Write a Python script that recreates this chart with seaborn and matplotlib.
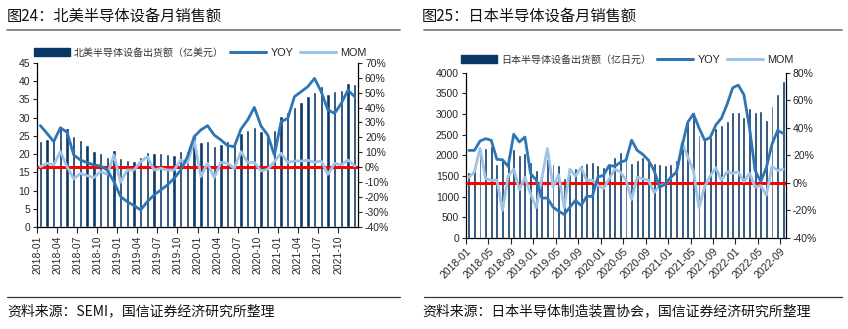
import numpy as np
import pandas as pd
import matplotlib
matplotlib.use("Agg")
import matplotlib.pyplot as plt
import seaborn as sns
from matplotlib.lines import Line2D
from matplotlib.patches import Patch
from matplotlib.ticker import FuncFormatter

sns.set_style("ticks")
plt.rcParams['font.family'] = ['Liberation Sans', 'Noto Sans CJK SC', 'DejaVu Sans']

# ---------------- data: North America ----------------
na_months = [f"{y}-{m:02d}" for y in range(2018, 2022) for m in range(1, 13)]
na_sales = [23.6, 24.1, 24.0, 27.0, 27.0, 24.8, 23.8, 22.4, 20.7, 20.3, 19.3, 21.0,
            18.9, 18.5, 18.2, 19.1, 20.5, 20.3, 20.3, 20.1, 19.6, 20.7, 20.9, 24.9,
            23.4, 23.6, 22.2, 22.7, 23.5, 22.5, 25.8, 26.5, 27.5, 26.4, 24.7, 26.7,
            30.4, 31.5, 32.8, 34.3, 35.9, 37.0, 38.6, 36.4, 37.2, 37.6, 39.4, 39.1]
na_yoy = [27.9, 22.7, 17.2, 26.5, 23.4, 8.2, 4.9, 3.1, 1.6, 0.9, -1.8, -9.6,
          -19.6, -23.0, -25.6, -28.5, -23.0, -18.5, -15.2, -11.8, -7.4, -1.8, 7.1, 20.5,
          25.0, 27.9, 21.6, 18.3, 14.5, 13.8, 25.6, 31.7, 40.1, 27.6, 21.6, 8.2,
          30.5, 32.8, 47.3, 50.6, 54.0, 59.5, 50.6, 38.4, 36.1, 42.8, 51.7, 47.3]
na_mom = [0.4, 2.7, 1.6, 10.5, 0.4, -7.8, -4.0, -5.6, -6.9, -2.9, -4.7, 8.2,
          -10.0, -1.8, -1.8, 3.8, 7.1, -1.8, -0.7, -1.8, -1.8, 4.9, 2.7, 18.3,
          -6.2, 2.7, -6.9, 3.3, 2.7, -0.7, 10.5, 3.3, 3.3, -2.5, -1.3, 3.8,
          9.4, 3.3, 4.2, 4.2, 4.7, 3.3, 4.2, -4.7, 2.7, 1.6, 4.9, 0.9]

# ---------------- data: Japan ----------------
jp_months = [f"{y}-{m:02d}" for y in range(2018, 2023) for m in range(1, 13)][:57]
jp_sales = [1590, 1710, 2050, 2185, 2225, 1780, 1890, 1980, 2145, 2000, 2050, 1850,
            1645, 1500, 1900, 1780, 1765, 1450, 1550, 1700, 1765, 1805, 1845, 1765,
            1710, 1790, 1960, 2070, 2060, 1805, 1885, 1950, 1930, 1810, 1780, 1770,
            1790, 1885, 2395, 2815, 3040, 2490, 2430, 2450, 2650, 2740, 2820, 3040,
            3060, 2940, 3150, 3060, 3080, 2855, 3200, 3475, 3805]
jp_yoy = [23.6, 23.6, 30.4, 32.1, 30.9, 17.1, 16.8, 12.0, 35.3, 29.7, 33.3, 6.7,
          2.3, -11.0, -11.0, -17.6, -20.5, -22.9, -17.6, -12.7, -16.4, -9.8, -9.8, 4.2,
          5.5, 12.7, 12.0, 15.0, 16.4, 31.0, 23.6, 20.7, 16.4, 9.0, -3.0, -1.0,
          4.2, 7.9, 27.0, 44.0, 50.0, 40.0, 31.0, 33.0, 42.0, 47.0, 57.0, 69.0,
          71.0, 64.0, 40.0, 9.0, 1.0, 11.0, 28.0, 38.0, 36.0]
jp_mom = [4, 8, 25, 3, 2, 2, -20, 5, 10, -5, 4, -8,
          -18, 3, 25, -3, 6, -18, 10, 5, 11, 2, 2, -2,
          -4, 3, 10, 8, 2, -12, 4, 3, 2, -7, -2, -1,
          4, 8, 29, 19, 9, -18, -3, 5, 11, 2, 8, 7,
          8, 1, 7, -3, -2, -9, 12, 9, 10]

BAR = "#0B3766"
YOY_C = "#2E75B6"
MOM_C = "#9DC3E6"
RED = "#FF0000"

W, H = 848, 329
fig = plt.figure(figsize=(W / 100, H / 100), dpi=100)

def fx(px):
    return px / W

def fy(py):
    return 1 - py / H

TICK_FS = 7.5

def panel(rect, months, sales, yoy, mom, ylim_l, yticks_l, ylim_r, yticks_r,
          tick_step, rot, legend_label, legend_xy, bar_w):
    ax = fig.add_axes(rect)
    n = len(months)
    df = pd.DataFrame({"month": months, "sales": sales})
    sns.barplot(data=df, x="month", y="sales", ax=ax, color=BAR, saturation=1,
                width=bar_w, zorder=1)
    ax.set_xlim(-0.5, n - 0.5)
    ax.set_ylim(*ylim_l)
    ax.set_yticks(yticks_l)
    ax.set_xlabel("")
    ax.set_ylabel("")
    ticks = np.arange(0, n, tick_step)
    ax.set_xticks(ticks - 0.5)
    if rot == 90:
        ax.set_xticklabels([months[i] for i in ticks], rotation=90, fontsize=TICK_FS)
    else:
        ax.set_xticklabels([months[i] for i in ticks], rotation=45, ha='right',
                           rotation_mode='anchor', fontsize=TICK_FS)
    ax.tick_params(axis='y', labelsize=TICK_FS, length=3, width=0.8, pad=2)
    ax.tick_params(axis='x', length=4, width=0.8, pad=2)
    for s in ['top', 'right']:
        ax.spines[s].set_visible(False)
    for s in ['left', 'bottom']:
        ax.spines[s].set_color('black')
        ax.spines[s].set_linewidth(0.9)

    ax2 = ax.twinx()
    x = np.arange(n)
    ax2.plot([-0.35, n - 0.65], [0, 0], color=RED, lw=2.2, zorder=2)
    sns.lineplot(x=x, y=yoy, ax=ax2, color=YOY_C, lw=2.0, zorder=4)
    sns.lineplot(x=x, y=mom, ax=ax2, color=MOM_C, lw=2.0, zorder=3)
    ax2.set_ylim(*ylim_r)
    ax2.set_yticks(yticks_r)
    ax2.yaxis.set_major_formatter(FuncFormatter(lambda v, p: f"{v:.0f}%"))
    ax2.tick_params(axis='y', labelsize=TICK_FS, length=3, width=0.8, pad=2)
    for s in ['top', 'left', 'bottom']:
        ax2.spines[s].set_visible(False)
    ax2.spines['right'].set_color('black')
    ax2.spines['right'].set_linewidth(0.9)
    ax2.set_xlim(-0.5, n - 0.5)

    handles = [Patch(facecolor=BAR, edgecolor=BAR),
               Line2D([], [], color=YOY_C, lw=2.2),
               Line2D([], [], color=MOM_C, lw=2.2)]
    leg = fig.legend(handles, [legend_label, "YOY", "MOM"], loc='center',
                     bbox_to_anchor=legend_xy, ncol=3, frameon=False,
                     fontsize=7.8, handlelength=3.3, handleheight=0.7,
                     handletextpad=0.4, columnspacing=0.6, borderaxespad=0)
    for t in leg.get_texts():
        t.set_family(['Noto Sans CJK SC', 'Liberation Sans'] if t.get_text() not in ("YOY", "MOM")
                     else ['Liberation Sans'])
        if t.get_text() not in ("YOY", "MOM"):
            t.set_fontsize(7.2)
            t.set_color('#333333')
    return ax, ax2

panel([fx(37), fy(227.1), fx(358 - 37), (227.1 - 62.7) / H],
      na_months, na_sales, na_yoy, na_mom,
      (0, 45), np.arange(0, 46, 5), (-40, 70), np.arange(-40, 71, 10),
      3, 90, "北美半导体设备出货额（亿美元）", (fx(200), fy(52.7)), 0.5)

panel([fx(466), fy(238), fx(786 - 466), (238 - 72.7) / H],
      jp_months, jp_sales, jp_yoy, jp_mom,
      (0, 4000), np.arange(0, 4001, 500), (-40, 80), np.arange(-40, 81, 20),
      4, 45, "日本半导体设备出货额（亿日元）", (fx(627), fy(60)), 0.52)

CJK = ['Noto Sans CJK SC', 'Liberation Sans']
fig.text(fx(7), fy(16), "图24：北美半导体设备月销售额", family=CJK, fontsize=11,
         va='center', ha='left', color='#111111')
fig.text(fx(422), fy(16), "图25：日本半导体设备月销售额", family=CJK, fontsize=11,
         va='center', ha='left', color='#111111')
for x0, x1 in [(7, 400), (424, 842)]:
    fig.add_artist(Line2D([fx(x0), fx(x1)], [fy(29.5), fy(29.5)], color='#7f7f7f',
                          lw=1.3, transform=fig.transFigure))
    fig.add_artist(Line2D([fx(x0), fx(x1)], [fy(296.7), fy(296.7)], color='#333333',
                          lw=0.9, transform=fig.transFigure))
fig.text(fx(7), fy(311.5), "资料来源：SEMI，国信证券经济研究所整理", family=CJK,
         fontsize=10, va='center', ha='left', color='#111111')
fig.text(fx(422), fy(311.5), "资料来源：日本半导体制造装置协会，国信证券经济研究所整理",
         family=CJK, fontsize=10, va='center', ha='left', color='#111111')

fig.savefig("out.png", dpi=100)
